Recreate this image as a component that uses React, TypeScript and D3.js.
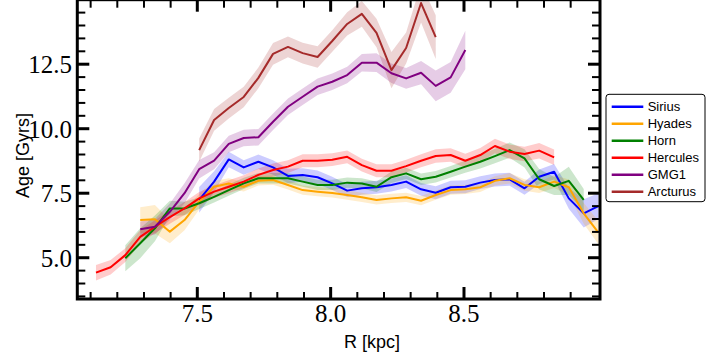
import React from "react";
import * as d3 from "d3";

const R = [7.120, 7.175, 7.230, 7.286, 7.341, 7.397, 7.452, 7.507, 7.563, 7.618, 7.674, 7.729, 7.784, 7.840, 7.895, 7.951, 8.006, 8.062, 8.117, 8.172, 8.228, 8.283, 8.339, 8.394, 8.450, 8.505, 8.561, 8.616, 8.671, 8.727, 8.782, 8.838, 8.893, 8.949, 9.004];

// each series: start index into R, values, half band widths
const siriusStart = 7;
const siriusAge = [7.24, 7.95, 8.81, 8.50, 8.72, 8.50, 8.17, 8.21, 8.12, 7.88, 7.60, 7.69, 7.73, 7.82, 7.95, 7.65, 7.52, 7.73, 7.75, 7.91, 8.01, 8.04, 7.69, 8.14, 8.33, 7.30, 6.72, 7.00];
const siriusErr = [0.50, 0.40, 0.30, 0.28, 0.28, 0.28, 0.28, 0.26, 0.26, 0.26, 0.25, 0.25, 0.25, 0.25, 0.25, 0.25, 0.25, 0.25, 0.25, 0.25, 0.25, 0.25, 0.25, 0.28, 0.30, 0.40, 0.55, 0.50];

const hyadesStart = 3;
const hyadesAge = [6.46, 6.49, 6.01, 6.46, 7.17, 7.75, 7.88, 7.75, 7.98, 8.01, 7.82, 7.62, 7.56, 7.51, 7.43, 7.34, 7.24, 7.30, 7.34, 7.21, 7.43, 7.62, 7.65, 7.73, 7.98, 8.08, 7.82, 7.73, 7.95, 7.73, 6.72, 5.97];
const hyadesErr = [0.50, 0.55, 0.45, 0.40, 0.30, 0.22, 0.20, 0.18, 0.18, 0.18, 0.18, 0.18, 0.18, 0.18, 0.18, 0.18, 0.18, 0.18, 0.18, 0.18, 0.18, 0.18, 0.18, 0.18, 0.18, 0.20, 0.22, 0.22, 0.25, 0.30, 0.40, 0.45];

const hornStart = 2;
const hornAge = [4.98, 5.56, 6.14, 6.91, 6.91, 7.11, 7.36, 7.62, 7.88, 8.08, 8.08, 8.08, 7.95, 7.82, 7.82, 7.91, 7.88, 7.75, 8.12, 8.27, 8.04, 8.14, 8.33, 8.53, 8.72, 8.94, 9.17, 8.85, 8.04, 7.78, 7.98, 7.24];
const hornErr = [0.50, 0.58, 0.50, 0.30, 0.26, 0.22, 0.22, 0.22, 0.22, 0.20, 0.20, 0.20, 0.20, 0.20, 0.20, 0.20, 0.20, 0.20, 0.22, 0.22, 0.22, 0.22, 0.22, 0.24, 0.26, 0.28, 0.30, 0.35, 0.40, 0.35, 0.55, 0.42];

const herculesStart = 0;
const herculesAge = [4.42, 4.63, 5.10, 5.81, 6.20, 6.57, 6.91, 7.30, 7.56, 7.75, 7.95, 8.21, 8.40, 8.53, 8.76, 8.76, 8.80, 8.91, 8.59, 8.37, 8.37, 8.55, 8.76, 8.94, 8.98, 8.76, 8.98, 9.33, 9.11, 9.02, 9.15, 8.89];
const herculesErr = [0.30, 0.28, 0.27, 0.26, 0.25, 0.25, 0.25, 0.25, 0.25, 0.25, 0.25, 0.25, 0.25, 0.25, 0.25, 0.25, 0.25, 0.25, 0.25, 0.25, 0.25, 0.25, 0.25, 0.26, 0.26, 0.27, 0.27, 0.28, 0.28, 0.28, 0.30, 0.30];

const gmg1Start = 3;
const gmg1Age = [6.10, 6.20, 6.78, 7.50, 8.43, 8.76, 9.41, 9.64, 9.67, 10.27, 10.85, 11.24, 11.63, 11.82, 12.08, 12.56, 12.56, 12.15, 11.95, 12.17, 11.66, 11.99, 13.05];
const gmg1Err = [0.30, 0.30, 0.32, 0.39, 0.36, 0.33, 0.32, 0.32, 0.32, 0.32, 0.32, 0.32, 0.32, 0.32, 0.32, 0.34, 0.36, 0.38, 0.40, 0.45, 0.60, 0.60, 0.75];

const arcturusStart = 7;
const arcturusAge = [9.17, 10.34, 10.80, 11.23, 11.97, 12.90, 13.17, 12.93, 12.78, 13.40, 14.06, 14.45, 13.71, 12.27, 13.13, 14.87, 13.55];
const arcturusErr = [0.45, 0.42, 0.40, 0.40, 0.40, 0.42, 0.40, 0.40, 0.42, 0.42, 0.45, 0.50, 0.55, 0.70, 0.60, 0.75, 0.85];

const seriesNames = ["Sirius", "Hyades", "Horn", "Hercules", "GMG1", "Arcturus"];
const seriesColors = ["#0000ff", "#ffa500", "#008000", "#ff0000", "#800080", "#a52a2a"];

const xMajor = [7.5, 8.0, 8.5];
const xMajorLabels = ["7.5", "8.0", "8.5"];
const xMinor = [7.1, 7.2, 7.3, 7.4, 7.6, 7.7, 7.8, 7.9, 8.1, 8.2, 8.3, 8.4, 8.6, 8.7, 8.8, 8.9];
const yMajor = [5.0, 7.5, 10.0, 12.5];
const yMajorLabels = ["5.0", "7.5", "10.0", "12.5"];
const yMinor = [3.5, 4.0, 4.5, 5.5, 6.0, 6.5, 7.0, 8.0, 8.5, 9.0, 9.5, 10.5, 11.0, 11.5, 12.0, 13.0, 13.5, 14.0, 14.5];

const W = 706, H = 353;
const L = 77.3, RT = 600, T = -0.3, B = 299;

type Pt = { x: number; y: number; e: number };

export default function App() {
  const x = d3.scaleLinear().domain([7.05, 9.01]).range([L, RT]);
  const y = d3.scaleLinear().domain([3.4, 15]).range([B, T]);

  const build = (start: number, vals: number[], errs: number[]): Pt[] =>
    vals.map((v, i) => ({ x: R[start + i], y: v, e: errs[i] }));

  const series = [
    build(siriusStart, siriusAge, siriusErr),
    build(hyadesStart, hyadesAge, hyadesErr),
    build(hornStart, hornAge, hornErr),
    build(herculesStart, herculesAge, herculesErr),
    build(gmg1Start, gmg1Age, gmg1Err),
    build(arcturusStart, arcturusAge, arcturusErr),
  ];

  const line = d3.line<Pt>().x(d => x(d.x)).y(d => y(d.y));
  const area = d3.area<Pt>().x(d => x(d.x)).y0(d => y(d.y - d.e)).y1(d => y(d.y + d.e));

  const serif = "'Liberation Serif', 'DejaVu Serif', serif";
  const sans = "'Liberation Sans', Arial, sans-serif";

  return (
    <svg width={W} height={H} style={{ position: "absolute", left: 0, top: 0, background: "#fff" }}>
      <defs>
        <clipPath id="plotclip">
          <rect x={L} y={T} width={RT - L} height={B - T} />
        </clipPath>
      </defs>
      <rect x={0} y={0} width={W} height={H} fill="#fff" />
      <g clipPath="url(#plotclip)">
        {series.map((s, i) => (
          <path key={"a" + i} d={area(s) || ""} fill={seriesColors[i]} fillOpacity={0.2} stroke="none" />
        ))}
        {series.map((s, i) => (
          <path key={"l" + i} d={line(s) || ""} fill="none" stroke={seriesColors[i]} strokeWidth={2} strokeLinejoin="round" />
        ))}
      </g>
      {/* ticks */}
      <g stroke="#000">
        {xMajor.map(v => (
          <g key={"xM" + v}>
            <line x1={x(v)} x2={x(v)} y1={B} y2={B - 12} strokeWidth={3} />
            <line x1={x(v)} x2={x(v)} y1={T} y2={T + 12} strokeWidth={3} />
          </g>
        ))}
        {xMinor.map(v => (
          <g key={"xm" + v}>
            <line x1={x(v)} x2={x(v)} y1={B} y2={B - 7} strokeWidth={2} />
            <line x1={x(v)} x2={x(v)} y1={T} y2={T + 8} strokeWidth={2} />
          </g>
        ))}
        {yMajor.map(v => (
          <g key={"yM" + v}>
            <line x1={L} x2={L + 12} y1={y(v)} y2={y(v)} strokeWidth={3} />
            <line x1={RT} x2={RT - 12} y1={y(v)} y2={y(v)} strokeWidth={3} />
          </g>
        ))}
        {yMinor.map(v => (
          <g key={"ym" + v}>
            <line x1={L} x2={L + 8} y1={y(v)} y2={y(v)} strokeWidth={2} />
            <line x1={RT} x2={RT - 8} y1={y(v)} y2={y(v)} strokeWidth={2} />
          </g>
        ))}
      </g>
      <rect x={L} y={T} width={RT - L} height={B - T} fill="none" stroke="#000" strokeWidth={3} />
      {/* tick labels */}
      {xMajor.map((v, i) => (
        <text key={"xl" + v} x={x(v)} y={321.5} textAnchor="middle" fontFamily={serif} fontSize={25} fill="#000">
          {xMajorLabels[i]}
        </text>
      ))}
      {yMajor.map((v, i) => (
        <text key={"yl" + v} x={72} y={y(v) + 9} textAnchor="end" fontFamily={serif} fontSize={25} fill="#000">
          {yMajorLabels[i]}
        </text>
      ))}
      {/* axis labels */}
      <text x={372} y={347.5} textAnchor="middle" fontFamily={sans} fontSize={18} fill="#000">R [kpc]</text>
      <text transform="translate(28.5,155.5) rotate(-90)" textAnchor="middle" fontFamily={sans} fontSize={18} fill="#000">Age [Gyrs]</text>
      {/* legend */}
      <rect x={606} y={94.3} width={99} height={107.4} rx={3} ry={3} fill="#fff" stroke="#000" strokeWidth={1} />
      {seriesNames.map((n, i) => {
        const ly = 106.7 + i * 17;
        return (
          <g key={"lg" + n}>
            <line x1={611.7} x2={643.3} y1={ly} y2={ly} stroke={seriesColors[i]} strokeWidth={2.5} />
            <text x={647.7} y={ly + 4.6} fontFamily={sans} fontSize={13} fill="#000">{n}</text>
          </g>
        );
      })}
    </svg>
  );
}
